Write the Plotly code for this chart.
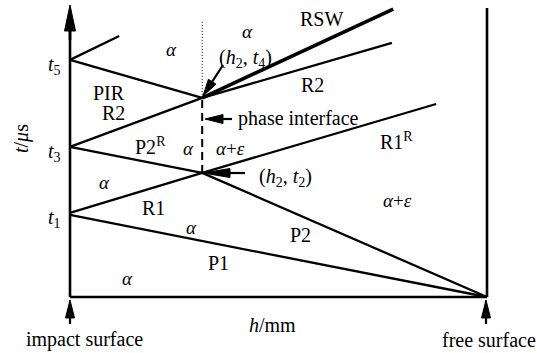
import plotly.graph_objects as go
import math

W, H = 537, 353
X0, Y0 = 70, 297        # pixel position of the origin (impact surface, t = 0)
SX, SY = 41.7, 29.2     # pixels per unit of h and of t

# ---- key points (h: thickness units, t: time units) ----
h_impact = 0.0
h_2 = 3.17
h_free = 10.0
t_1 = 2.85
t_2 = 4.25
t_3 = 5.14
t_4 = 6.82
t_5 = 8.12

# ---- wave paths (h values, t values) ----
P1_h, P1_t = [h_impact, h_free], [2.81, 0.0]
R1_h, R1_t = [h_impact, h_2], [2.88, t_2]
P2R_h, P2R_t = [h_impact, h_2], [t_3, t_2]
P2_h, P2_t = [h_2, h_free], [t_2, 0.0]
R1R_h, R1R_t = [h_2, 8.78], [t_2, 6.61]
R2a_h, R2a_t = [h_impact, h_2], [t_3, t_4]
PIR_h, PIR_t = [h_impact, h_2], [t_5, t_4]
R2b_h, R2b_t = [h_2, 7.72], [t_4, 8.70]
RSW_h, RSW_t = [h_2, 7.75], [t_4, 9.86]
T5up_h, T5up_t = [h_impact, 1.18], [t_5, 8.94]
IF_h, IF_t = [h_2, h_2], [t_2, t_4]          # phase interface (dashed)
DOT_h, DOT_t = [h_2, h_2], [t_4, 9.49]       # dotted continuation
FREE_h, FREE_t = [h_free, h_free], [0.0, 9.90]
BOT_h, BOT_t = [h_impact, h_free], [0.0, 0.0]
AX_h, AX_t = [h_impact, h_impact], [0.0, 9.2]

FONT = "Liberation Serif"
BLACK = "#000000"


def px(x, y):
    """pixel -> data coordinates"""
    return (x - X0) / SX, (Y0 - y) / SY


fig = go.Figure()


def line(hs, ts, width=2.0, dash="solid"):
    fig.add_trace(go.Scatter(x=hs, y=ts, mode="lines",
                             line=dict(color=BLACK, width=width, dash=dash),
                             hoverinfo="skip", showlegend=False))


for hs, ts in [(P1_h, P1_t), (R1_h, R1_t), (P2R_h, P2R_t), (P2_h, P2_t),
               (R1R_h, R1R_t), (R2a_h, R2a_t), (PIR_h, PIR_t), (R2b_h, R2b_t),
               (T5up_h, T5up_t)]:
    line(hs, ts, 2.3)
line(RSW_h, RSW_t, 3.6)
line(IF_h, IF_t, 2.0, "8px,5px")
line(DOT_h, DOT_t, 1.0, "1px,2px")
line(FREE_h, FREE_t, 2.6)
line(BOT_h, BOT_t, 2.6)
line(AX_h, AX_t, 2.6)


def arrow(tip_px, tail_px, head_len, half_w, width=2.2):
    tx, ty = tip_px
    ax, ay = tail_px
    dx, dy = ax - tx, ay - ty
    L = math.hypot(dx, dy)
    ux, uy = dx / L, dy / L
    bx, by = tx + ux * head_len, ty + uy * head_len
    nx, ny = -uy, ux
    pts = [(tx, ty), (bx + nx * half_w, by + ny * half_w),
           (bx - nx * half_w, by - ny * half_w), (tx, ty)]
    d = [px(*p) for p in pts]
    fig.add_trace(go.Scatter(x=[p[0] for p in d], y=[p[1] for p in d],
                             mode="lines", fill="toself", fillcolor=BLACK,
                             line=dict(color=BLACK, width=1),
                             hoverinfo="skip", showlegend=False))
    s = [px(bx, by), px(ax, ay)]
    fig.add_trace(go.Scatter(x=[p[0] for p in s], y=[p[1] for p in s],
                             mode="lines", line=dict(color=BLACK, width=width),
                             hoverinfo="skip", showlegend=False))


# axis arrow head (t axis)
arrow((X0, 5), (X0, 40), 26, 5.5, 2.6)
# arrow to (h2, t4)
arrow((203, 96), (223, 65), 17, 4.5)
# phase interface arrow
arrow((205, 119), (232, 119), 18, 4.5)
# arrow to (h2, t2)
arrow((203, 173), (245, 173), 27, 4.5)
# impact / free surface arrows
arrow((70, 300), (70, 324), 18, 4.5)
arrow((486, 300), (486, 324), 18, 4.5)


def label(x, y, text, size=20, angle=0):
    hx, ty = px(x, y)
    fig.add_annotation(x=hx, y=ty, xref="x", yref="y", text=text,
                       showarrow=False, textangle=angle,
                       font=dict(family=FONT, size=size, color=BLACK),
                       xanchor="center", yanchor="middle")


A = "<i>α</i>"
AS = 19
label(171, 49, A, AS)
label(247, 31, A, AS)
label(245, 58, "(<i>h</i><sub>2</sub>, <i>t</i><sub>4</sub>)", 20)
label(321, 19, "RSW")
label(312, 85, "R2")
label(109, 93, "PIR")
label(113, 113, "R2")
label(150, 146, "P2<sup>R</sup>")
label(188, 148, A, AS)
label(230, 148, "<i>α</i>+<i>ε</i>", AS)
label(298, 118, "phase interface")
label(396, 141, "R1<sup>R</sup>")
label(285, 177, "(<i>h</i><sub>2</sub>, <i>t</i><sub>2</sub>)", 20)
label(104, 182, A, AS)
label(153, 208, "R1")
label(191, 227, A, AS)
label(218, 263, "P1")
label(127, 278, A, AS)
label(397, 200, "<i>α</i>+<i>ε</i>", AS)
label(300, 235, "P2")
label(54, 65, "<i>t</i><sub>5</sub>")
label(54, 152, "<i>t</i><sub>3</sub>")
label(54, 218, "<i>t</i><sub>1</sub>")
label(21, 139, "<i>t</i>/<i>μ</i>s", 20, -90)
label(272, 325, "<i>h</i>/mm")
label(84, 339, "impact surface")
label(489, 340, "free surface")

xr = [(0 - X0) / SX, (W - X0) / SX]
yr = [(Y0 - H) / SY, (Y0 - 0) / SY]
fig.update_layout(
    width=W, height=H, margin=dict(l=0, r=0, t=0, b=0),
    paper_bgcolor="white", plot_bgcolor="white",
    xaxis=dict(range=xr, visible=False, fixedrange=True),
    yaxis=dict(range=yr, visible=False, fixedrange=True),
    showlegend=False,
)
fig.write_html("out.html")
